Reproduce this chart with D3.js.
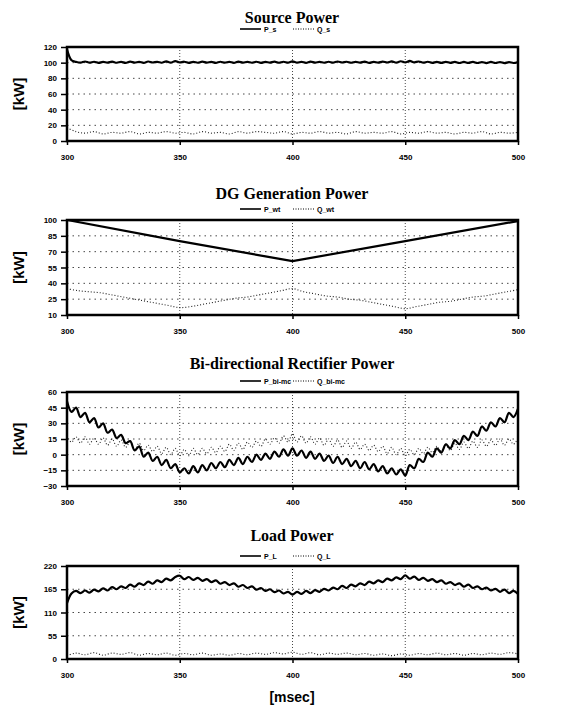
<!DOCTYPE html>
<html>
<head>
<meta charset="utf-8">
<script src="https://cdn.jsdelivr.net/npm/d3@7"></script>
<style>
  body { margin: 0; background: #fff; }
  svg { display: block; }
</style>
</head>
<body>
<div id="chart"></div>
<script>
// time axis (msec), shared by all four panels
const xTicks = [300, 350, 400, 450, 500];

// --- Source Power ---
const pS = [117,103,101,100,101.5,100,101.2,99.8,101,100,101.4,99.9,101,99.7,101.3,100,101.1,99.8,101.5,100.2,
  101,99.9,101.6,100,102,100.3,101.2,99.8,101,99.9,101.3,100,101,99.7,101.2,100,101.1,99.8,101.4,100,
  101,99.9,101.2,99.8,101,100,101.3,99.9,101.2,100,101.6,100.1,101.1,99.8,101.4,100,101,99.9,101.2,100,
  101.5,100.2,101.2,99.9,101.1,100,101.3,99.8,101,100,101.4,100.2,101.6,100.1,101.8,100.3,102.2,100.4,101.5,100,
  101.2,99.8,101,99.7,101.1,99.8,101,99.6,100.9,99.7,101,99.6,100.8,99.5,100.9,99.6,100.8,99.5,100.7,99.6,100.8];
const qS = [17,12,10,12,9,11,10,12,9,11,10,12,10,11,9,12,10,11,9,12,10,12,11,10,12,9,
  11,10,12,10,11,9,12,10,11,10,12,9,11,10,12,10,11,9,11,10,12,9,11,10,11];
const ticksS = [0, 20, 40, 60, 80, 100, 120];

// --- DG Generation Power ---
const pWt = [100, 80, 61, 80, 99];
const qWt = [35,33,32,31,29,27,25,23,21,19,17,18,20,22,24,26,27,29,31,33,
  35,32,30,28,27,25,24,22,20,18,16,18,20,22,23,25,27,28,30,32,34];
const ticksWt = [10, 25, 40, 55, 70, 85, 100];

// --- Bi-directional Rectifier Power ---
const pBi = [51,41,45,36,40,31,35,26,30,21,24,16,19,11,13,4,8,-2,2,-6,
  -2,-10,-5,-13,-9,-17,-13,-18,-11,-17,-10,-15,-8,-13,-7,-12,-5,-10,-3,-9,
  -2,-7,0,-5,1,-4,3,-2,5,-1,6,-1,4,-3,3,-4,1,-6,-1,-8,
  -2,-9,-4,-11,-6,-13,-7,-14,-9,-16,-11,-18,-13,-19,-14,-20,-10,-13,-4,-7,
  2,-2,6,2,10,6,14,10,18,14,22,18,27,23,31,27,35,31,40,36,44];
const qBi = [18,12,17,11,17,10,16,10,16,9,15,8,14,7,12,5,11,4,9,3,
  8,1,7,0,6,-1,5,-1,6,0,6,1,7,2,8,3,10,4,11,5,
  12,7,13,8,15,10,16,11,18,12,20,12,18,11,17,10,16,9,15,8,
  14,7,13,6,12,5,10,4,9,3,8,1,7,0,6,-1,5,0,6,1,
  7,2,8,3,9,4,11,5,12,6,13,7,14,8,14,9,15,9,15,10,16];
const ticksBi = [-30, -15, 0, 15, 30, 45, 60];

// --- Load Power ---
const pL = [132,155,161,156,162,157,164,160,167,162,170,165,172,168,176,171,179,175,183,178,
  186,182,190,186,194,197,189,194,187,192,185,189,182,186,178,182,175,179,171,175,
  168,172,164,168,161,165,158,162,155,159,152,159,154,161,156,163,159,166,162,169,
  165,173,168,176,172,179,175,183,179,186,182,190,186,193,189,198,190,195,187,192,
  185,189,182,186,178,182,175,179,171,176,168,172,165,169,162,166,159,164,156,161,154];
const qL = [8,14,10,15,9,14,11,15,9,13,10,14,9,13,10,14,9,12,9,13,10,14,11,15,12,16,
  11,15,10,14,11,14,10,13,9,12,8,12,9,13,10,14,10,13,9,13,10,14,11,15,12];
const ticksL = [0, 55, 110, 165, 220];

const width = 581, height = 711;
const plotLeft = 67, plotRight = 518;

const svg = d3.select("#chart").append("svg")
  .attr("width", width)
  .attr("height", height);

const x = d3.scaleLinear().domain([300, 500]).range([plotLeft, plotRight]);

// each sample array spans 300..500 msec evenly
function toPoints(values) {
  const step = 200 / (values.length - 1);
  return values.map((v, i) => [300 + i * step, v]);
}

function drawPanel(id, title, titleY, legendY, top, bottom, ticks, pLabel, qLabel, pVals, qVals) {
  const y = d3.scaleLinear().domain([ticks[0], ticks[ticks.length - 1]]).range([bottom, top]);
  const g = svg.append("g");

  // title
  g.append("text")
    .attr("x", 292).attr("y", titleY)
    .attr("text-anchor", "middle")
    .style("font-family", "'Liberation Serif', 'Times New Roman', serif")
    .style("font-weight", "bold")
    .style("font-size", "16px")
    .text(title);

  // legend
  const lg = g.append("g").attr("transform", `translate(0,${legendY})`);
  lg.append("line").attr("x1", 240).attr("x2", 261).attr("y1", 0).attr("y2", 0)
    .attr("stroke", "#000").attr("stroke-width", 1.6);
  lg.append("text").attr("x", 264).attr("y", 2.5).text(pLabel)
    .style("font-family", "Arial, 'Liberation Sans', sans-serif")
    .style("font-weight", "bold").style("font-size", "7px");
  lg.append("line").attr("x1", 293).attr("x2", 315).attr("y1", 0).attr("y2", 0)
    .attr("stroke", "#000").attr("stroke-width", 1).attr("stroke-dasharray", "1,1.5");
  lg.append("text").attr("x", 317).attr("y", 2.5).text(qLabel)
    .style("font-family", "Arial, 'Liberation Sans', sans-serif")
    .style("font-weight", "bold").style("font-size", "7px");

  // grid lines
  g.append("g").selectAll("line")
    .data(ticks.slice(1, -1))
    .enter().append("line")
    .attr("x1", plotLeft).attr("x2", plotRight)
    .attr("y1", (d) => y(d)).attr("y2", (d) => y(d))
    .attr("stroke", "#333").attr("stroke-width", 0.9)
    .attr("stroke-dasharray", "1.5,4");
  g.append("g").selectAll("line")
    .data(xTicks.slice(1, -1))
    .enter().append("line")
    .attr("x1", (d) => x(d)).attr("x2", (d) => x(d))
    .attr("y1", top).attr("y2", bottom)
    .attr("stroke", "#333").attr("stroke-width", 0.9)
    .attr("stroke-dasharray", "1,2");

  // clip for series
  svg.append("clipPath").attr("id", "clip" + id)
    .append("rect")
    .attr("x", plotLeft).attr("y", top)
    .attr("width", plotRight - plotLeft).attr("height", bottom - top);

  const line = d3.line().curve(d3.curveCatmullRom).x((d) => x(d[0])).y((d) => y(d[1]));
  const straight = d3.line().x((d) => x(d[0])).y((d) => y(d[1]));

  g.append("path")
    .datum(toPoints(qVals))
    .attr("clip-path", `url(#clip${id})`)
    .attr("d", line)
    .attr("fill", "none")
    .attr("stroke", "#222")
    .attr("stroke-width", 1.1)
    .attr("stroke-dasharray", "1,2");

  g.append("path")
    .datum(toPoints(pVals))
    .attr("clip-path", `url(#clip${id})`)
    .attr("d", pVals.length > 10 ? line : straight)
    .attr("fill", "none")
    .attr("stroke", "#000")
    .attr("stroke-width", 2.2)
    .attr("stroke-linejoin", "round");

  // axes
  const yAxis = g.append("g")
    .attr("transform", `translate(${plotLeft},0)`)
    .call(d3.axisLeft(y).tickValues(ticks).tickSize(6).tickPadding(4).tickFormat(d3.format("d")));
  const xAxis = g.append("g")
    .attr("transform", `translate(0,${bottom})`)
    .call(d3.axisBottom(x).tickValues(xTicks).tickSize(4).tickPadding(9).tickFormat(d3.format("d")));
  [yAxis, xAxis].forEach((a) => {
    a.select(".domain").remove();
    a.selectAll(".tick line").attr("stroke", "#000").attr("stroke-width", 1.5);
    a.selectAll("text")
      .style("font-family", "Arial, 'Liberation Sans', sans-serif")
      .style("font-weight", "bold")
      .style("font-size", "8px")
      .attr("fill", "#000");
  });

  // frame
  g.append("rect")
    .attr("x", plotLeft).attr("y", top)
    .attr("width", plotRight - plotLeft).attr("height", bottom - top)
    .attr("fill", "none")
    .attr("stroke", "#000")
    .attr("stroke-width", 2.5);

  // y label
  g.append("text")
    .attr("transform", `translate(24,${(top + bottom) / 2}) rotate(-90)`)
    .attr("text-anchor", "middle")
    .style("font-family", "Arial, 'Liberation Sans', sans-serif")
    .style("font-weight", "bold")
    .style("font-size", "15px")
    .text("[kW]");
}

drawPanel("S", "Source Power", 23, 29, 47, 141, ticksS, "P_s", "Q_s", pS, qS);
drawPanel("Wt", "DG Generation Power", 199, 209, 220, 315, ticksWt, "P_wt", "Q_wt", pWt, qWt);
drawPanel("Bi", "Bi-directional Rectifier Power", 369, 381, 392, 486, ticksBi, "P_bi-mc", "Q_bi-mc", pBi, qBi);
drawPanel("L", "Load Power", 541, 556, 566, 659, ticksL, "P_L", "Q_L", pL, qL);

// x label
svg.append("text")
  .attr("x", 292).attr("y", 702)
  .attr("text-anchor", "middle")
  .style("font-family", "Arial, 'Liberation Sans', sans-serif")
  .style("font-weight", "bold")
  .style("font-size", "14px")
  .text("[msec]");
</script>
</body>
</html>
